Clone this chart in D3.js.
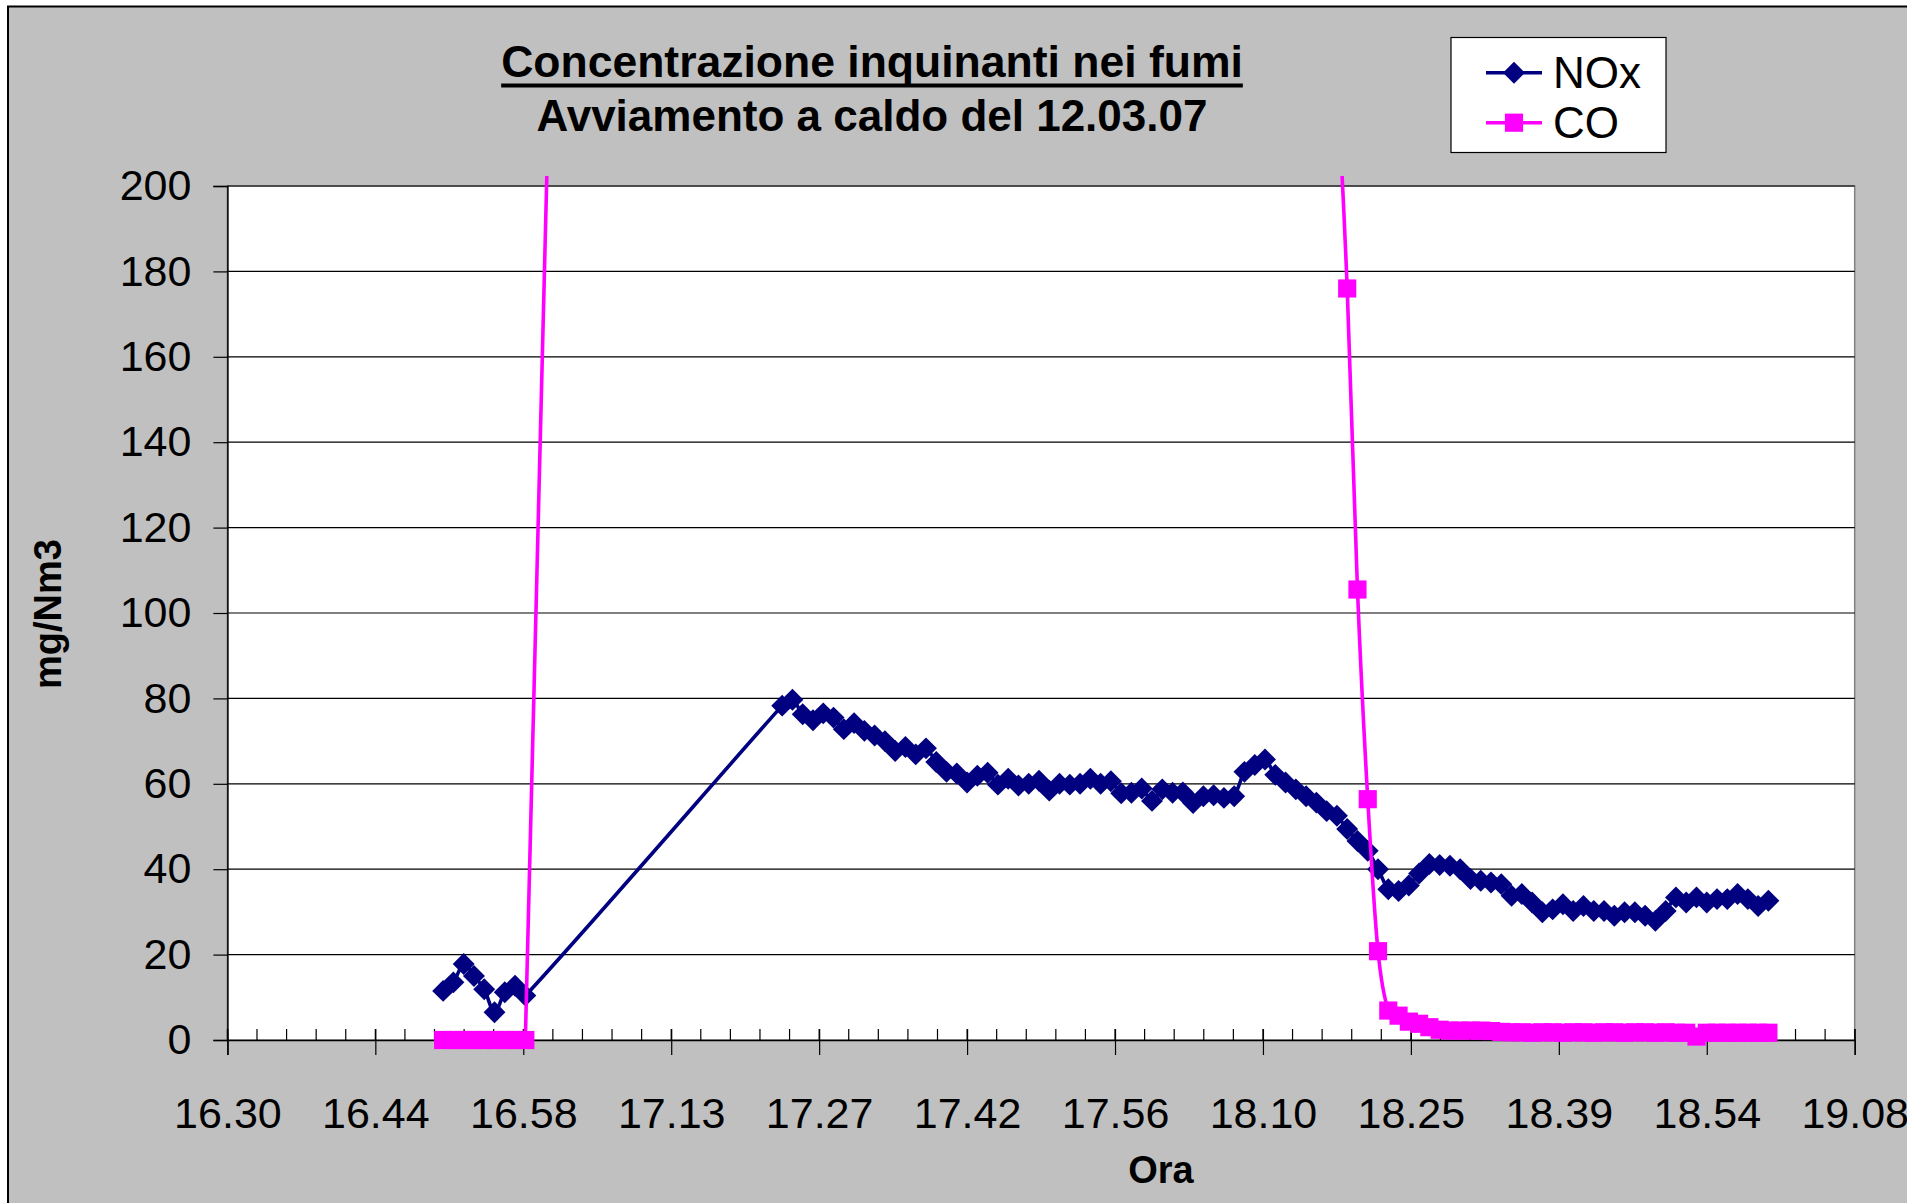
<!DOCTYPE html>
<html>
<head>
<meta charset="utf-8">
<script src="https://cdn.jsdelivr.net/npm/d3@7"></script>
<style>
  body { margin: 0; background: #fff; }
  text { font-family: "Liberation Sans", Arial, sans-serif; fill: #000; }
</style>
</head>
<body>
<svg width="1907" height="1203"></svg>
<script>
// sample times (hh:mm)
const times = [
  "16:51","16:52","16:53","16:54","16:55","16:56","16:57","16:58","16:59",
  "17:24","17:25","17:26","17:27","17:28","17:29","17:30","17:31","17:32","17:33","17:34",
  "17:35","17:36","17:37","17:38","17:39","17:40","17:41","17:42","17:43","17:44",
  "17:45","17:46","17:47","17:48","17:49","17:50","17:51","17:52","17:53","17:54",
  "17:55","17:56","17:57","17:58","17:59",
  "18:00","18:01","18:02","18:03","18:04","18:05","18:06","18:07","18:08",
  "18:09","18:10","18:11","18:12","18:13","18:14","18:15","18:16","18:17","18:18","18:19",
  "18:20","18:21","18:22","18:23","18:24","18:25","18:26","18:27","18:28","18:29",
  "18:30","18:31","18:32","18:33","18:34","18:35","18:36","18:37","18:38","18:39",
  "18:40","18:41","18:42","18:43","18:44","18:45","18:46","18:47","18:48","18:49",
  "18:50","18:51","18:52","18:53","18:54","18:55","18:56","18:57","18:58","18:59",
  "19:00"
]

const noxValues = [
  11.5, 13.5, 17.8, 15.0, 11.9, 6.5, 11.2, 12.7, 10.4,
  78.3, 79.7, 76.3, 74.9, 76.5, 75.5, 72.8, 74.2, 72.4, 71.3, 70.0,
  67.7, 68.6, 66.9, 68.3, 65.1, 62.8, 62.4, 60.3, 61.9, 62.6,
  59.8, 61.2, 59.6, 60.0, 60.7, 58.4, 60.0, 59.8, 60.0, 61.2,
  60.0, 60.6, 57.8, 57.9, 58.9,
  56.0, 58.7, 57.9, 58.0, 55.5, 57.1, 57.3, 56.7, 57.1,
  62.8, 64.4, 65.7, 62.1, 60.3, 58.7, 57.1, 55.6, 53.6, 52.5, 49.4,
  46.6, 44.3, 40.0, 35.3, 34.9, 36.2, 39.0, 41.2, 41.0, 40.8,
  40.0, 37.7, 37.3, 36.9, 36.5, 33.8, 34.2, 32.2, 29.9, 30.6,
  31.8, 30.2, 31.4, 30.2, 30.2, 29.1, 29.9, 29.9, 29.1, 27.9,
  30.2, 33.4, 32.2, 33.4, 32.2, 33.0, 33.0, 34.2, 33.0, 31.4,
  32.6
]

// CO is off scale (above 200) between 17:24 and 18:18
const coValues = [
  0, 0, 0, 0, 0, 0, 0, 0, 0,
  2400, 2250, 2100, 1950, 1800, 1700, 1600, 1500, 1420, 1350, 1280,
  1210, 1150, 1090, 1040, 990, 940, 900, 860, 820, 780,
  750, 720, 690, 660, 630, 610, 590, 570, 550, 530,
  510, 495, 480, 465, 450,
  440, 430, 420, 410, 400, 390, 380, 370, 360,
  350, 340, 330, 320, 310, 300, 290, 280, 260, 225, 176,
  105.5, 56.4, 20.8, 6.9, 5.7, 4.3, 3.8, 3.0, 2.4, 2.2,
  2.2, 2.2, 2.2, 2.1, 1.9, 1.8, 1.8, 1.7, 1.8, 1.8,
  1.7, 1.8, 1.8, 1.7, 1.8, 1.8, 1.7, 1.8, 1.8, 1.7,
  1.8, 1.7, 1.7, 0.8, 1.7, 1.7, 1.7, 1.7, 1.7, 1.7,
  1.7
]

const xTickLabels = ["16.30","16.44","16.58","17.13","17.27","17.42","17.56","18.10","18.25","18.39","18.54","19.08"]
const yTicks = [0, 20, 40, 60, 80, 100, 120, 140, 160, 180, 200]

const seriesNames = ["NOx", "CO"]
const seriesColors = ["#000080", "#ff00ff"]

const toMin = s => {
  const p = s.split(":")
  return +p[0] * 60 + +p[1]
}

// spreadsheet-style smoothed line: bezier handles (P2-P0)/6, capped at half the segment
function curveSmooth(context) {
  let pts = []
  return {
    areaStart() {},
    areaEnd() {},
    lineStart() { pts = [] },
    point(px, py) { pts.push([+px, +py]) },
    lineEnd() {
      if (!pts.length) return
      context.moveTo(pts[0][0], pts[0][1])
      const dist = (a, b) => Math.hypot(b[0] - a[0], b[1] - a[1])
      for (let i = 0; i < pts.length - 1; i++) {
        const p0 = pts[i - 1] || pts[i]
        const p1 = pts[i]
        const p2 = pts[i + 1]
        const p3 = pts[i + 2] || pts[i + 1]
        const d12 = dist(p1, p2)
        const d02 = dist(p0, p2)
        const d13 = dist(p1, p3)
        const fa = d02 > 0 ? Math.min(1 / 6, d12 / (2 * d02)) : 0
        const fb = d13 > 0 ? Math.min(1 / 6, d12 / (2 * d13)) : 0
        context.bezierCurveTo(
          p1[0] + (p2[0] - p0[0]) * fa, p1[1] + (p2[1] - p0[1]) * fa,
          p2[0] - (p3[0] - p1[0]) * fb, p2[1] - (p3[1] - p1[1]) * fb,
          p2[0], p2[1]
        )
      }
    }
  }
}

const svg = d3.select("svg")

const plotLeft = 227.4, plotRight = 1854.7, plotTop = 186, plotBottom = 1040
const startMin = 990          // 16:30
const majorStep = 14.4        // 0.01 day
const minorStep = 2.88

const x = d3.scaleLinear().domain([startMin, startMin + majorStep * 11]).range([plotLeft, plotRight])
const y = d3.scaleLinear().domain([0, 200]).range([plotBottom, plotTop])

// chart area
svg.append("rect")
  .attr("x", 8).attr("y", 6.5)
  .attr("width", 1920).attr("height", 1220)
  .attr("fill", "#c0c0c0")
  .attr("stroke", "#000")
  .attr("stroke-width", 2)

// plot area
svg.append("rect")
  .attr("x", plotLeft).attr("y", plotTop)
  .attr("width", plotRight - plotLeft).attr("height", plotBottom - plotTop)
  .attr("fill", "#fff")
  .attr("stroke", "#808080")
  .attr("stroke-width", 1.5)

// gridlines
svg.append("g")
  .selectAll("line")
  .data(yTicks.filter(d => d > 0))
  .enter()
  .append("line")
  .attr("x1", plotLeft).attr("x2", plotRight)
  .attr("y1", d => y(d)).attr("y2", d => y(d))
  .attr("stroke", "#000")
  .attr("stroke-width", 1.2)

// y axis
const yAxis = svg.append("g")
  .attr("transform", `translate(${plotLeft},0)`)
  .call(d3.axisLeft(y).tickValues(yTicks).tickSize(14).tickPadding(22))
yAxis.select(".domain").attr("stroke", "#000").attr("stroke-width", 1.5)
yAxis.selectAll(".tick line").attr("stroke", "#000").attr("stroke-width", 1.2)
yAxis.selectAll("text")
  .attr("font-size", 43)
  .attr("font-family", "Liberation Sans, Arial, sans-serif")
  .attr("fill", "#000")

// x axis: minor ticks inside, major ticks crossing
const majors = xTickLabels.map((d, i) => startMin + i * majorStep)
const minors = d3.range(0, 56).map(i => startMin + i * minorStep)

const xg = svg.append("g").attr("transform", `translate(0,${plotBottom})`)
xg.selectAll("line.minor")
  .data(minors)
  .enter()
  .append("line")
  .attr("class", "minor")
  .attr("x1", d => x(d)).attr("x2", d => x(d))
  .attr("y1", -11).attr("y2", 0)
  .attr("stroke", "#000")
  .attr("stroke-width", 1.2)

const xAxis = xg.call(
  d3.axisBottom(x).tickValues(majors).tickSize(15).tickFormat((d, i) => xTickLabels[i])
)
xAxis.select(".domain").attr("stroke", "#000").attr("stroke-width", 1.5)
xAxis.selectAll(".tick line").attr("y1", -11).attr("y2", 15).attr("stroke", "#000").attr("stroke-width", 1.2)
xAxis.selectAll(".tick text")
  .attr("y", 88)
  .attr("dy", null)
  .attr("font-size", 43)
  .attr("font-family", "Liberation Sans, Arial, sans-serif")
  .attr("fill", "#000")

// series
const clip = svg.append("clipPath").attr("id", "plotclip")
clip.append("rect")
  .attr("x", plotLeft).attr("y", plotTop - 10)
  .attr("width", plotRight - plotLeft).attr("height", plotBottom - plotTop + 20)

const line = d3.line()
  .x(d => x(d.t))
  .y(d => y(d.v))
  .curve(curveSmooth)

const series = [noxValues, coValues].map(vals =>
  vals.map((v, i) => ({ t: toMin(times[i]), v: v }))
)

const diamond = d3.symbol().type(d3.symbolSquare).size(240)
const square = d3.symbol().type(d3.symbolSquare).size(330)

series.forEach((data, k) => {
  const g = svg.append("g")
  g.append("path")
    .attr("d", line(data))
    .attr("fill", "none")
    .attr("stroke", seriesColors[k])
    .attr("stroke-width", 3.6)
    .attr("clip-path", "url(#plotclip)")

  g.selectAll("path.marker")
    .data(data.filter(d => d.v <= 200))
    .enter()
    .append("path")
    .attr("class", "marker")
    .attr("d", k === 0 ? diamond() : square())
    .attr("transform", d => `translate(${x(d.t)},${y(d.v)})` + (k === 0 ? " rotate(45)" : ""))
    .attr("fill", seriesColors[k])
})

// titles
const title = svg.append("text")
  .attr("x", 872).attr("y", 77)
  .attr("text-anchor", "middle")
  .attr("font-size", 44.5)
  .attr("font-weight", "bold")
  .text("Concentrazione inquinanti nei fumi")

const tw = title.node().getComputedTextLength()
svg.append("line")
  .attr("x1", 872 - tw / 2).attr("x2", 872 + tw / 2)
  .attr("y1", 85.5).attr("y2", 85.5)
  .attr("stroke", "#000")
  .attr("stroke-width", 4)

svg.append("text")
  .attr("x", 872).attr("y", 131)
  .attr("text-anchor", "middle")
  .attr("font-size", 44)
  .attr("font-weight", "bold")
  .text("Avviamento a caldo del 12.03.07")

svg.append("text")
  .attr("x", 1161).attr("y", 1183)
  .attr("text-anchor", "middle")
  .attr("font-size", 38)
  .attr("font-weight", "bold")
  .text("Ora")

svg.append("text")
  .attr("transform", "translate(61,614) rotate(-90)")
  .attr("text-anchor", "middle")
  .attr("font-size", 38)
  .attr("font-weight", "bold")
  .text("mg/Nm3")

// legend
const legend = svg.append("g")
legend.append("rect")
  .attr("x", 1451).attr("y", 37.5)
  .attr("width", 215).attr("height", 115)
  .attr("fill", "#fff")
  .attr("stroke", "#000")
  .attr("stroke-width", 1.2)

const rows = legend.selectAll("g.row")
  .data(seriesNames)
  .enter()
  .append("g")
  .attr("transform", (d, i) => `translate(0,${72.7 + i * 50})`)

rows.append("line")
  .attr("x1", 1486).attr("x2", 1542)
  .attr("y1", 0).attr("y2", 0)
  .attr("stroke", (d, i) => seriesColors[i])
  .attr("stroke-width", 3.6)

rows.append("path")
  .attr("d", (d, i) => (i === 0 ? diamond() : square()))
  .attr("transform", (d, i) => "translate(1514,0)" + (i === 0 ? " rotate(45)" : ""))
  .attr("fill", (d, i) => seriesColors[i])

rows.append("text")
  .attr("x", 1553).attr("y", 15)
  .attr("font-size", 44)
  .text(d => d)
</script>
</body>
</html>
